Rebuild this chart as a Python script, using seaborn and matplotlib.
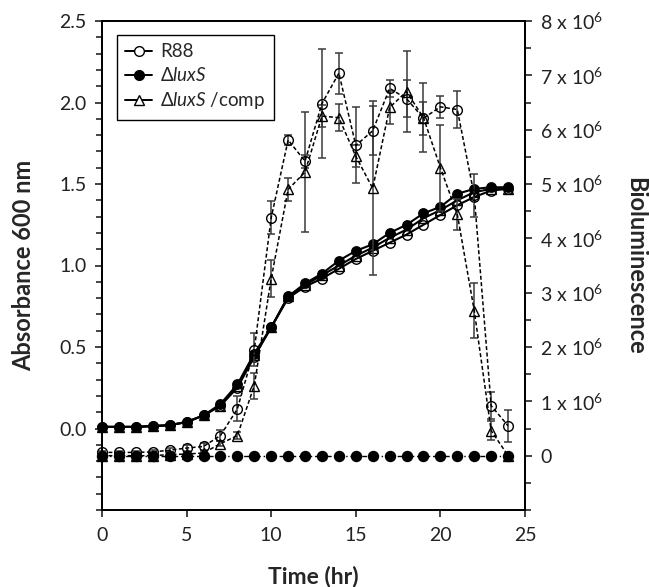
import numpy as np
import pandas as pd
import seaborn as sns
import matplotlib
matplotlib.use("Agg")
import matplotlib.pyplot as plt
from matplotlib.lines import Line2D
from matplotlib.ticker import MultipleLocator, FixedLocator, FuncFormatter

# ---- data ----
time_hr = list(range(25))

# Absorbance at 600 nm (left axis)
od_r88 = [0.01, 0.01, 0.01, 0.015, 0.02, 0.04, 0.08, 0.14, 0.25, 0.44, 0.62, 0.80, 0.87,
          0.92, 0.98, 1.04, 1.09, 1.14, 1.19, 1.25, 1.31, 1.37, 1.42, 1.46, 1.47]
od_luxs = [0.01, 0.01, 0.01, 0.015, 0.02, 0.04, 0.08, 0.15, 0.27, 0.46, 0.62, 0.81, 0.89,
           0.95, 1.03, 1.09, 1.13, 1.20, 1.25, 1.32, 1.36, 1.44, 1.47, 1.48, 1.48]
od_comp = [0.01, 0.01, 0.01, 0.015, 0.02, 0.04, 0.08, 0.14, 0.26, 0.45, 0.62, 0.81, 0.88,
           0.94, 1.00, 1.06, 1.11, 1.17, 1.22, 1.29, 1.34, 1.40, 1.45, 1.47, 1.47]

# Bioluminescence in units of 10^6 (right axis)
bio_r88 = [0.06, 0.06, 0.06, 0.07, 0.10, 0.14, 0.17, 0.37, 0.86, 1.95, 4.38, 5.81, 5.42,
           6.48, 7.04, 5.71, 5.98, 6.76, 6.57, 6.21, 6.42, 6.37, 4.79, 0.92, 0.55]
bio_r88_err = [0.03, 0.03, 0.03, 0.03, 0.04, 0.05, 0.06, 0.10, 0.23, 0.30, 0.30, 0.10, 0.12,
               1.00, 0.38, 0.70, 0.45, 0.15, 0.34, 0.30, 0.20, 0.34, 0.39, 0.25, 0.29]
bio_comp = [0.0, 0.0, 0.0, 0.0, 0.02, 0.03, 0.05, 0.22, 0.37, 1.29, 3.26, 4.90, 5.22,
            6.25, 6.22, 5.51, 4.92, 6.41, 6.70, 6.22, 5.30, 4.44, 2.67, 0.46, 0.0]
bio_comp_err = [0.02, 0.02, 0.02, 0.02, 0.02, 0.03, 0.03, 0.05, 0.06, 0.24, 0.34, 0.21, 1.10,
                0.20, 0.25, 0.20, 1.60, 0.30, 0.75, 0.63, 0.79, 0.28, 0.51, 0.17, 0.05]
bio_luxs = [0.0] * 25

legend_labels = ["R88", r"$\Delta\mathit{luxS}$", r"$\Delta\mathit{luxS}$ /comp"]

# ---- style ----
sns.set_style("ticks")
plt.rcParams["font.family"] = ["Lato", "DejaVu Sans"]
plt.rcParams["mathtext.fontset"] = "custom"
plt.rcParams["mathtext.rm"] = "Lato"
plt.rcParams["mathtext.it"] = "Lato:italic"
plt.rcParams["mathtext.bf"] = "Lato:bold"
plt.rcParams["axes.edgecolor"] = "black"
plt.rcParams["axes.linewidth"] = 1.3

fig = plt.figure(figsize=(6.49, 5.87), dpi=100)
ax = fig.add_axes([102 / 649, 1 - 510 / 587, 423 / 649, 489 / 587])
ax2 = ax.twinx()

ink = "black"
solid_kw = dict(color=ink, linewidth=1.5, markersize=6.8, markeredgecolor=ink,
                markeredgewidth=1.0, clip_on=False, legend=False, zorder=3)
dash_kw = dict(color=ink, linewidth=1.1, linestyle=(0, (2.6, 1.6)), markersize=7.0,
               markeredgecolor=ink, markeredgewidth=1.0, clip_on=False, legend=False,
               zorder=3)

# growth curves
sns.lineplot(x=time_hr, y=od_r88, ax=ax, marker="o", markerfacecolor="none", **solid_kw)
sns.lineplot(x=time_hr, y=od_comp, ax=ax, marker="^", markerfacecolor="none", **solid_kw)
sns.lineplot(x=time_hr, y=od_luxs, ax=ax, marker="o", markerfacecolor=ink, **solid_kw)

# bioluminescence
err_kw = dict(fmt="none", ecolor="#3a3a3a", elinewidth=1.1, capsize=2.6, capthick=1.1,
              clip_on=False, zorder=2)
ax2.errorbar(time_hr, bio_r88, yerr=bio_r88_err, **err_kw)
ax2.errorbar(time_hr, bio_comp, yerr=bio_comp_err, **err_kw)
sns.lineplot(x=time_hr, y=bio_r88, ax=ax2, marker="o", markerfacecolor="none", **dash_kw)
sns.lineplot(x=time_hr, y=bio_comp, ax=ax2, marker="^", markerfacecolor="none", **dash_kw)
sns.lineplot(x=time_hr, y=bio_luxs, ax=ax2, marker="o", markerfacecolor=ink, color=ink,
             linewidth=1.0, linestyle=(0, (3.5, 2.0, 1.0, 2.0)), markersize=7.2,
             markeredgecolor=ink, markeredgewidth=1.0, clip_on=False, legend=False,
             zorder=3)

# ---- axes ----
ax.set_xlim(0, 25)
ax.xaxis.set_major_locator(MultipleLocator(5))

ax.set_ylim(-0.5, 2.5)
ax.yaxis.set_major_locator(FixedLocator([0.0, 0.5, 1.0, 1.5, 2.0, 2.5]))
ax.yaxis.set_minor_locator(MultipleLocator(0.1))
ax.yaxis.set_major_formatter(FuncFormatter(lambda v, p: f"{v:.1f}"))

ax2.set_ylim(-1, 8)
ax2.yaxis.set_major_locator(FixedLocator(list(range(0, 9))))
ax2.yaxis.set_minor_locator(MultipleLocator(0.5))
ax2.yaxis.set_major_formatter(
    FuncFormatter(lambda v, p: "0" if v == 0 else rf"{int(v)} x 10$^{{6}}$"))

for a in (ax, ax2):
    a.tick_params(which="major", direction="out", length=5, width=1.2,
                  labelsize=14, colors="#222222", labelcolor="#222222")
    a.tick_params(which="minor", direction="out", length=4, width=1.2)
    for s in a.spines.values():
        s.set_linewidth(1.3)
        s.set_color("black")
ax.tick_params(axis="y", pad=6)
ax2.tick_params(axis="y", pad=6)
ax.tick_params(axis="x", pad=7)

ax.set_xlabel("Time (hr)", fontsize=16.5, fontweight="bold")
ax.set_ylabel("Absorbance 600 nm", fontsize=17, fontweight="bold")
ax2.set_ylabel("Bioluminescence", fontsize=17, fontweight="bold", rotation=270)
ax.xaxis.set_label_coords(0.5, -0.137)
ax.yaxis.set_label_coords(-0.185, 0.5)
ax2.yaxis.set_label_coords(1.262, 0.5)
for lab in (ax.xaxis.label, ax.yaxis.label, ax2.yaxis.label):
    lab.set_va("center")
    lab.set_ha("center")

# legend
handles = [
    Line2D([], [], color=ink, lw=1.4, marker="o", markerfacecolor="white",
           markeredgecolor=ink, markersize=7.0),
    Line2D([], [], color=ink, lw=1.4, marker="o", markerfacecolor=ink,
           markeredgecolor=ink, markersize=7.0),
    Line2D([], [], color=ink, lw=1.4, marker="^", markerfacecolor="white",
           markeredgecolor=ink, markersize=7.0),
]
leg = ax2.legend(handles, legend_labels, loc="upper left",
                 bbox_to_anchor=((117 - 102) / 423, (510 - 35) / 489),
                 borderaxespad=0, fancybox=False, framealpha=1, edgecolor="black",
                 fontsize=13.5, handlelength=1.4, handletextpad=0.45,
                 labelspacing=0.32, borderpad=0.45)
leg.get_frame().set_linewidth(1.0)

fig.savefig("out.png", dpi=100)
